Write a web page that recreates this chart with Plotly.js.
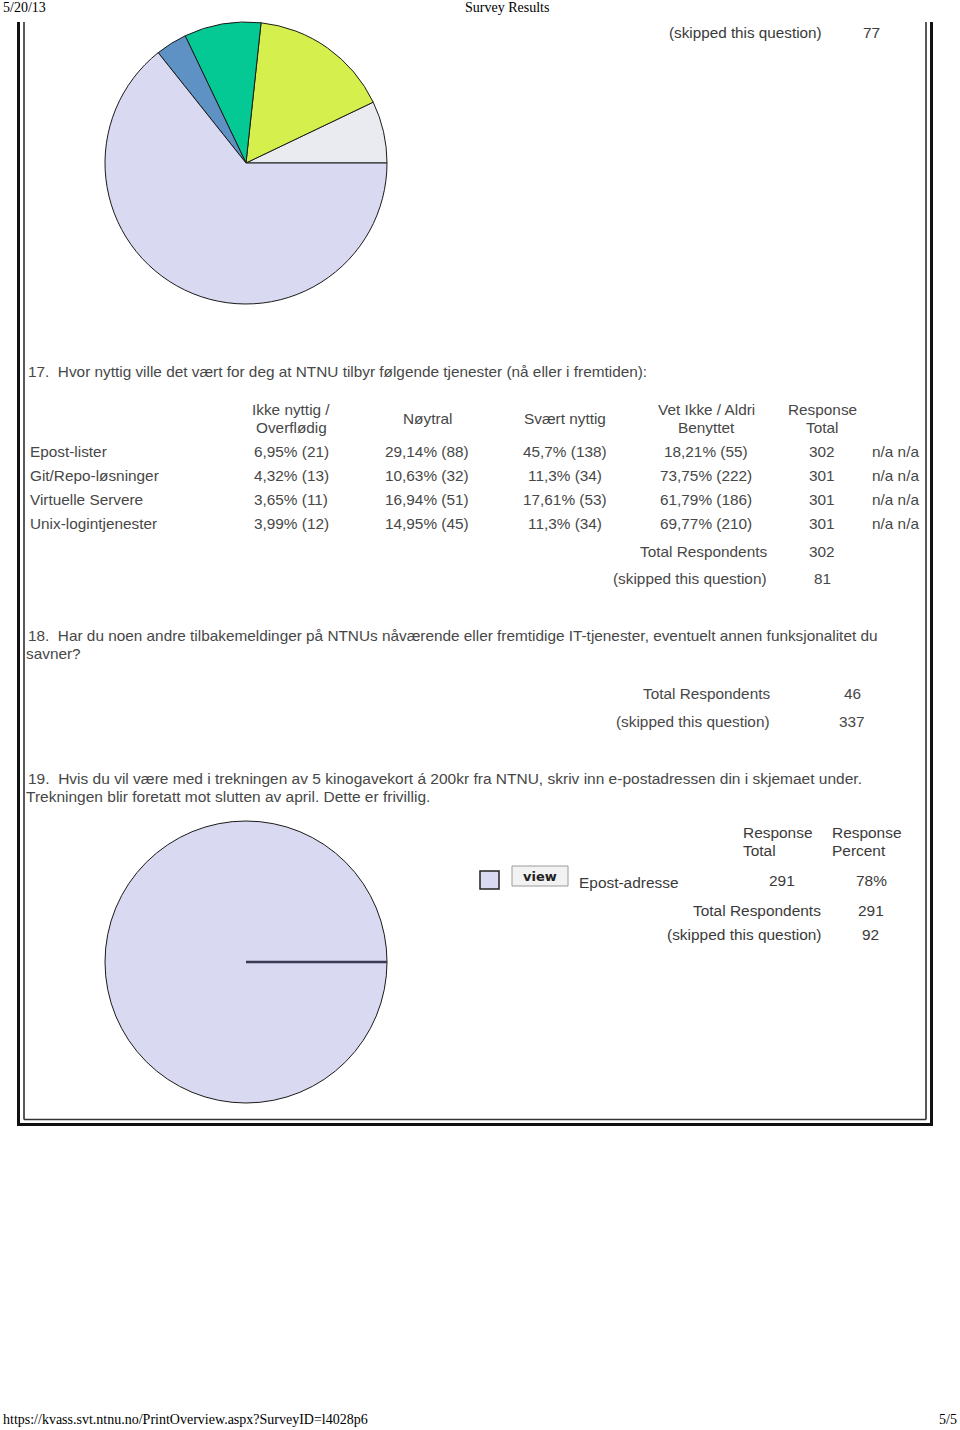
<!DOCTYPE html>
<html><head><meta charset="utf-8">
<script src="https://cdn.plot.ly/plotly-3.0.1.min.js"></script>
<style>html,body{margin:0;padding:0;background:#fff}</style>
</head><body><div id="chart" style="width:960px;height:1430px"></div>
<script>
// ---------------- DATA ----------------
// Question 16 (pie only, continued from previous page) - shares
const q16Labels = ["Alternativ 1", "Alternativ 2", "Alternativ 3", "Alternativ 4", "Alternativ 5"];
const q16Values = [7.1, 16.2, 8.8, 3.6, 64.3];
const q16Colors = ["#e9ebf0", "#d5ef4c", "#04c995", "#5e92c4", "#d9d9f2"];
const q16Skipped = 77;

// Question 17
const q17Title = "17.  Hvor nyttig ville det vært for deg at NTNU tilbyr følgende tjenester (nå eller i fremtiden):";
const q17Columns = [["Ikke nyttig /", "Overflødig"], ["Nøytral"], ["Svært nyttig"], ["Vet Ikke / Aldri", "Benyttet"], ["Response", "Total"]];
const q17Rows = ["Epost-lister", "Git/Repo-løsninger", "Virtuelle Servere", "Unix-logintjenester"];
const q17Percent = [
  [6.95, 29.14, 45.7, 18.21],
  [4.32, 10.63, 11.3, 73.75],
  [3.65, 16.94, 17.61, 61.79],
  [3.99, 14.95, 11.3, 69.77]
];
const q17Counts = [
  [21, 88, 138, 55],
  [13, 32, 34, 222],
  [11, 51, 53, 186],
  [12, 45, 34, 210]
];
const q17Totals = [302, 301, 301, 301];
const q17Extra = "n/a n/a";
const q17TotalRespondents = 302;
const q17Skipped = 81;

// Question 18
const q18Title = ["18.  Har du noen andre tilbakemeldinger på NTNUs nåværende eller fremtidige IT-tjenester, eventuelt annen funksjonalitet du", "savner?"];
const q18TotalRespondents = 46;
const q18Skipped = 337;

// Question 19
const q19Title = ["19.  Hvis du vil være med i trekningen av 5 kinogavekort á 200kr fra NTNU, skriv inn e-postadressen din i skjemaet under.", "Trekningen blir foretatt mot slutten av april. Dette er frivillig."];
const q19Labels = ["Epost-adresse"];
const q19Values = [291];
const q19Percent = [78];
const q19Colors = ["#d9d9f2"];
const q19TotalRespondents = 291;
const q19Skipped = 92;

// page header / footer
const headerDate = "5/20/13";
const headerTitle = "Survey Results";
const footerUrl = "https://kvass.svt.ntnu.no/PrintOverview.aspx?SurveyID=l4028p6";
const footerPage = "5/5";

// ---------------- LAYOUT HELPERS ----------------
const W = 960, H = 1430;
const X = p => p / W;
const Y = p => 1 - p / H;
const SANS = "Liberation Sans, Arial, sans-serif";
const SERIF = "Liberation Serif, Times New Roman, serif";
const annotations = [];
function txt(text, x, y, anchor, opts) {
  opts = opts || {};
  annotations.push({
    text: text, x: X(x), y: Y(y), xref: "paper", yref: "paper",
    showarrow: false, xanchor: anchor || "left", yanchor: "middle",
    font: { family: opts.family || SANS, size: opts.size || 15.35, color: opts.color || "#474747" },
    borderpad: 0
  });
}
const fmt = v => String(v).replace(".", ",");
const HDR = { family: SERIF, size: 14, color: "#000" };
const DARK = { color: "#3a3a3a", size: 15.45 };

// header / footer
txt(headerDate, 2, 7, "left", HDR);
txt(headerTitle, 507, 7, "center", HDR);
txt(footerUrl, 2, 1419, "left", HDR);
txt(footerPage, 958, 1419, "right", HDR);

// q16 remainder
txt("(skipped this question)", 823, 32, "right", { color: "#3a3a3a", size: 15.25 });
txt(String(q16Skipped), 871, 32, "center", DARK);

// q17
txt(q17Title, 27, 371, "left");
const colX = [291, 427, 565, 706, 822];
q17Columns.forEach((lines, i) => {
  if (lines.length === 2) {
    txt(lines[0], colX[i], 410, "center");
    txt(lines[1], colX[i], 427, "center");
  } else {
    txt(lines[0], colX[i], 419, "center");
  }
});
const rowY = [451, 475, 499, 523];
q17Rows.forEach((r, ri) => {
  txt(r, 29, rowY[ri], "left");
  for (let c = 0; c < 4; c++) {
    txt(fmt(q17Percent[ri][c]) + "% (" + q17Counts[ri][c] + ")", colX[c], rowY[ri], "center");
  }
  txt(String(q17Totals[ri]), colX[4], rowY[ri], "center");
  txt(q17Extra, 895, rowY[ri], "center");
});
txt("Total Respondents", 768, 551, "right");
txt(String(q17TotalRespondents), 822, 551, "center");
txt("(skipped this question)", 768, 579, "right");
txt(String(q17Skipped), 822, 579, "center");

// q18
txt(q18Title[0], 27, 635, "left");
txt(q18Title[1], 25, 653, "left");
txt("Total Respondents", 771, 693, "right");
txt(String(q18TotalRespondents), 852, 693, "center");
txt("(skipped this question)", 771, 721, "right");
txt(String(q18Skipped), 852, 721, "center");

// q19
txt(q19Title[0], 27, 778, "left", { size: 15.5 });
txt(q19Title[1], 25, 796, "left", { size: 15.5 });
txt("Response", 742, 833, "left", DARK);
txt("Total", 742, 850, "left", DARK);
txt("Response", 831, 833, "left", DARK);
txt("Percent", 831, 850, "left", DARK);
txt("<b>view</b>", 540, 876, "center", { size: 13, color: "#222", family: "DejaVu Sans, sans-serif" });
txt(q19Labels[0], 578, 882, "left", DARK);
txt(String(q19Values[0]), 782, 880, "center", DARK);
txt(q19Percent[0] + "%", 871, 880, "center", DARK);
txt("Total Respondents", 822, 910, "right", DARK);
txt(String(q19TotalRespondents), 871, 910, "center", DARK);
txt("(skipped this question)", 822, 934, "right", DARK);
txt(String(q19Skipped), 870, 934, "center", DARK);

// ---------------- PIES ----------------
const pie1 = { x0: 105, x1: 387, y0: 22, y1: 304 };
const pie2 = { x0: 105, x1: 387, y0: 821, y1: 1103 };
function dom(p) { return { x: [X(p.x0), X(p.x1)], y: [Y(p.y1), Y(p.y0)] }; }
// first slice begins at 3 o'clock and slices run counterclockwise
const q16Sum = q16Values.reduce((a, b) => a + b, 0);
const q16Rotation = 90 - 360 * q16Values[0] / q16Sum;
const traces = [
  {
    type: "pie", labels: q16Labels, values: q16Values, sort: false,
    direction: "counterclockwise", rotation: q16Rotation, textinfo: "none", hoverinfo: "none",
    marker: { colors: q16Colors, line: { color: "#1a1a1a", width: 1 } },
    domain: dom(pie1)
  },
  {
    type: "pie", labels: q19Labels, values: q19Values, sort: false,
    direction: "counterclockwise", rotation: 90, textinfo: "none", hoverinfo: "none",
    marker: { colors: q19Colors, line: { color: "#1a1a1a", width: 1 } },
    domain: dom(pie2)
  }
];

// ---------------- SHAPES (frame, decorations) ----------------
function line(x0, y0, x1, y1, color, width) {
  return { type: "line", xref: "paper", yref: "paper", x0: X(x0), y0: Y(y0), x1: X(x1), y1: Y(y1), line: { color: color, width: width } };
}
const cx2 = (pie2.x0 + pie2.x1) / 2, cy2 = (pie2.y0 + pie2.y1) / 2;
const shapes = [
  // outer thick frame
  line(18.5, 22, 18.5, 1126, "#111", 3),
  line(931.5, 22, 931.5, 1126, "#111", 3),
  line(17, 1124.5, 933, 1124.5, "#111", 3),
  // inner thin frame
  line(24, 22, 24, 1119.5, "#222", 1.5),
  line(926, 22, 926, 1119.5, "#222", 1.5),
  line(24, 1119.5, 926, 1119.5, "#333", 1.5),
  // radial boundary of the single-slice pie
  line(cx2, cy2, pie2.x1, cy2, "#3a3a55", 2.5),
  // legend swatch
  { type: "rect", xref: "paper", yref: "paper", x0: X(480), x1: X(499), y0: Y(889), y1: Y(871), fillcolor: q19Colors[0], line: { color: "#222", width: 1.5 } },
  // view button
  { type: "rect", xref: "paper", yref: "paper", x0: X(512), x1: X(568), y0: Y(886), y1: Y(866), fillcolor: "#f2f2f2", line: { color: "#9a9a9a", width: 1 } }
];

const layout = {
  width: W, height: H, margin: { l: 0, r: 0, t: 0, b: 0 },
  paper_bgcolor: "#fff", plot_bgcolor: "#fff", showlegend: false,
  xaxis: { visible: false }, yaxis: { visible: false },
  annotations: annotations, shapes: shapes
};
Plotly.newPlot("chart", traces, layout, { staticPlot: true, displayModeBar: false });
</script></body></html>
